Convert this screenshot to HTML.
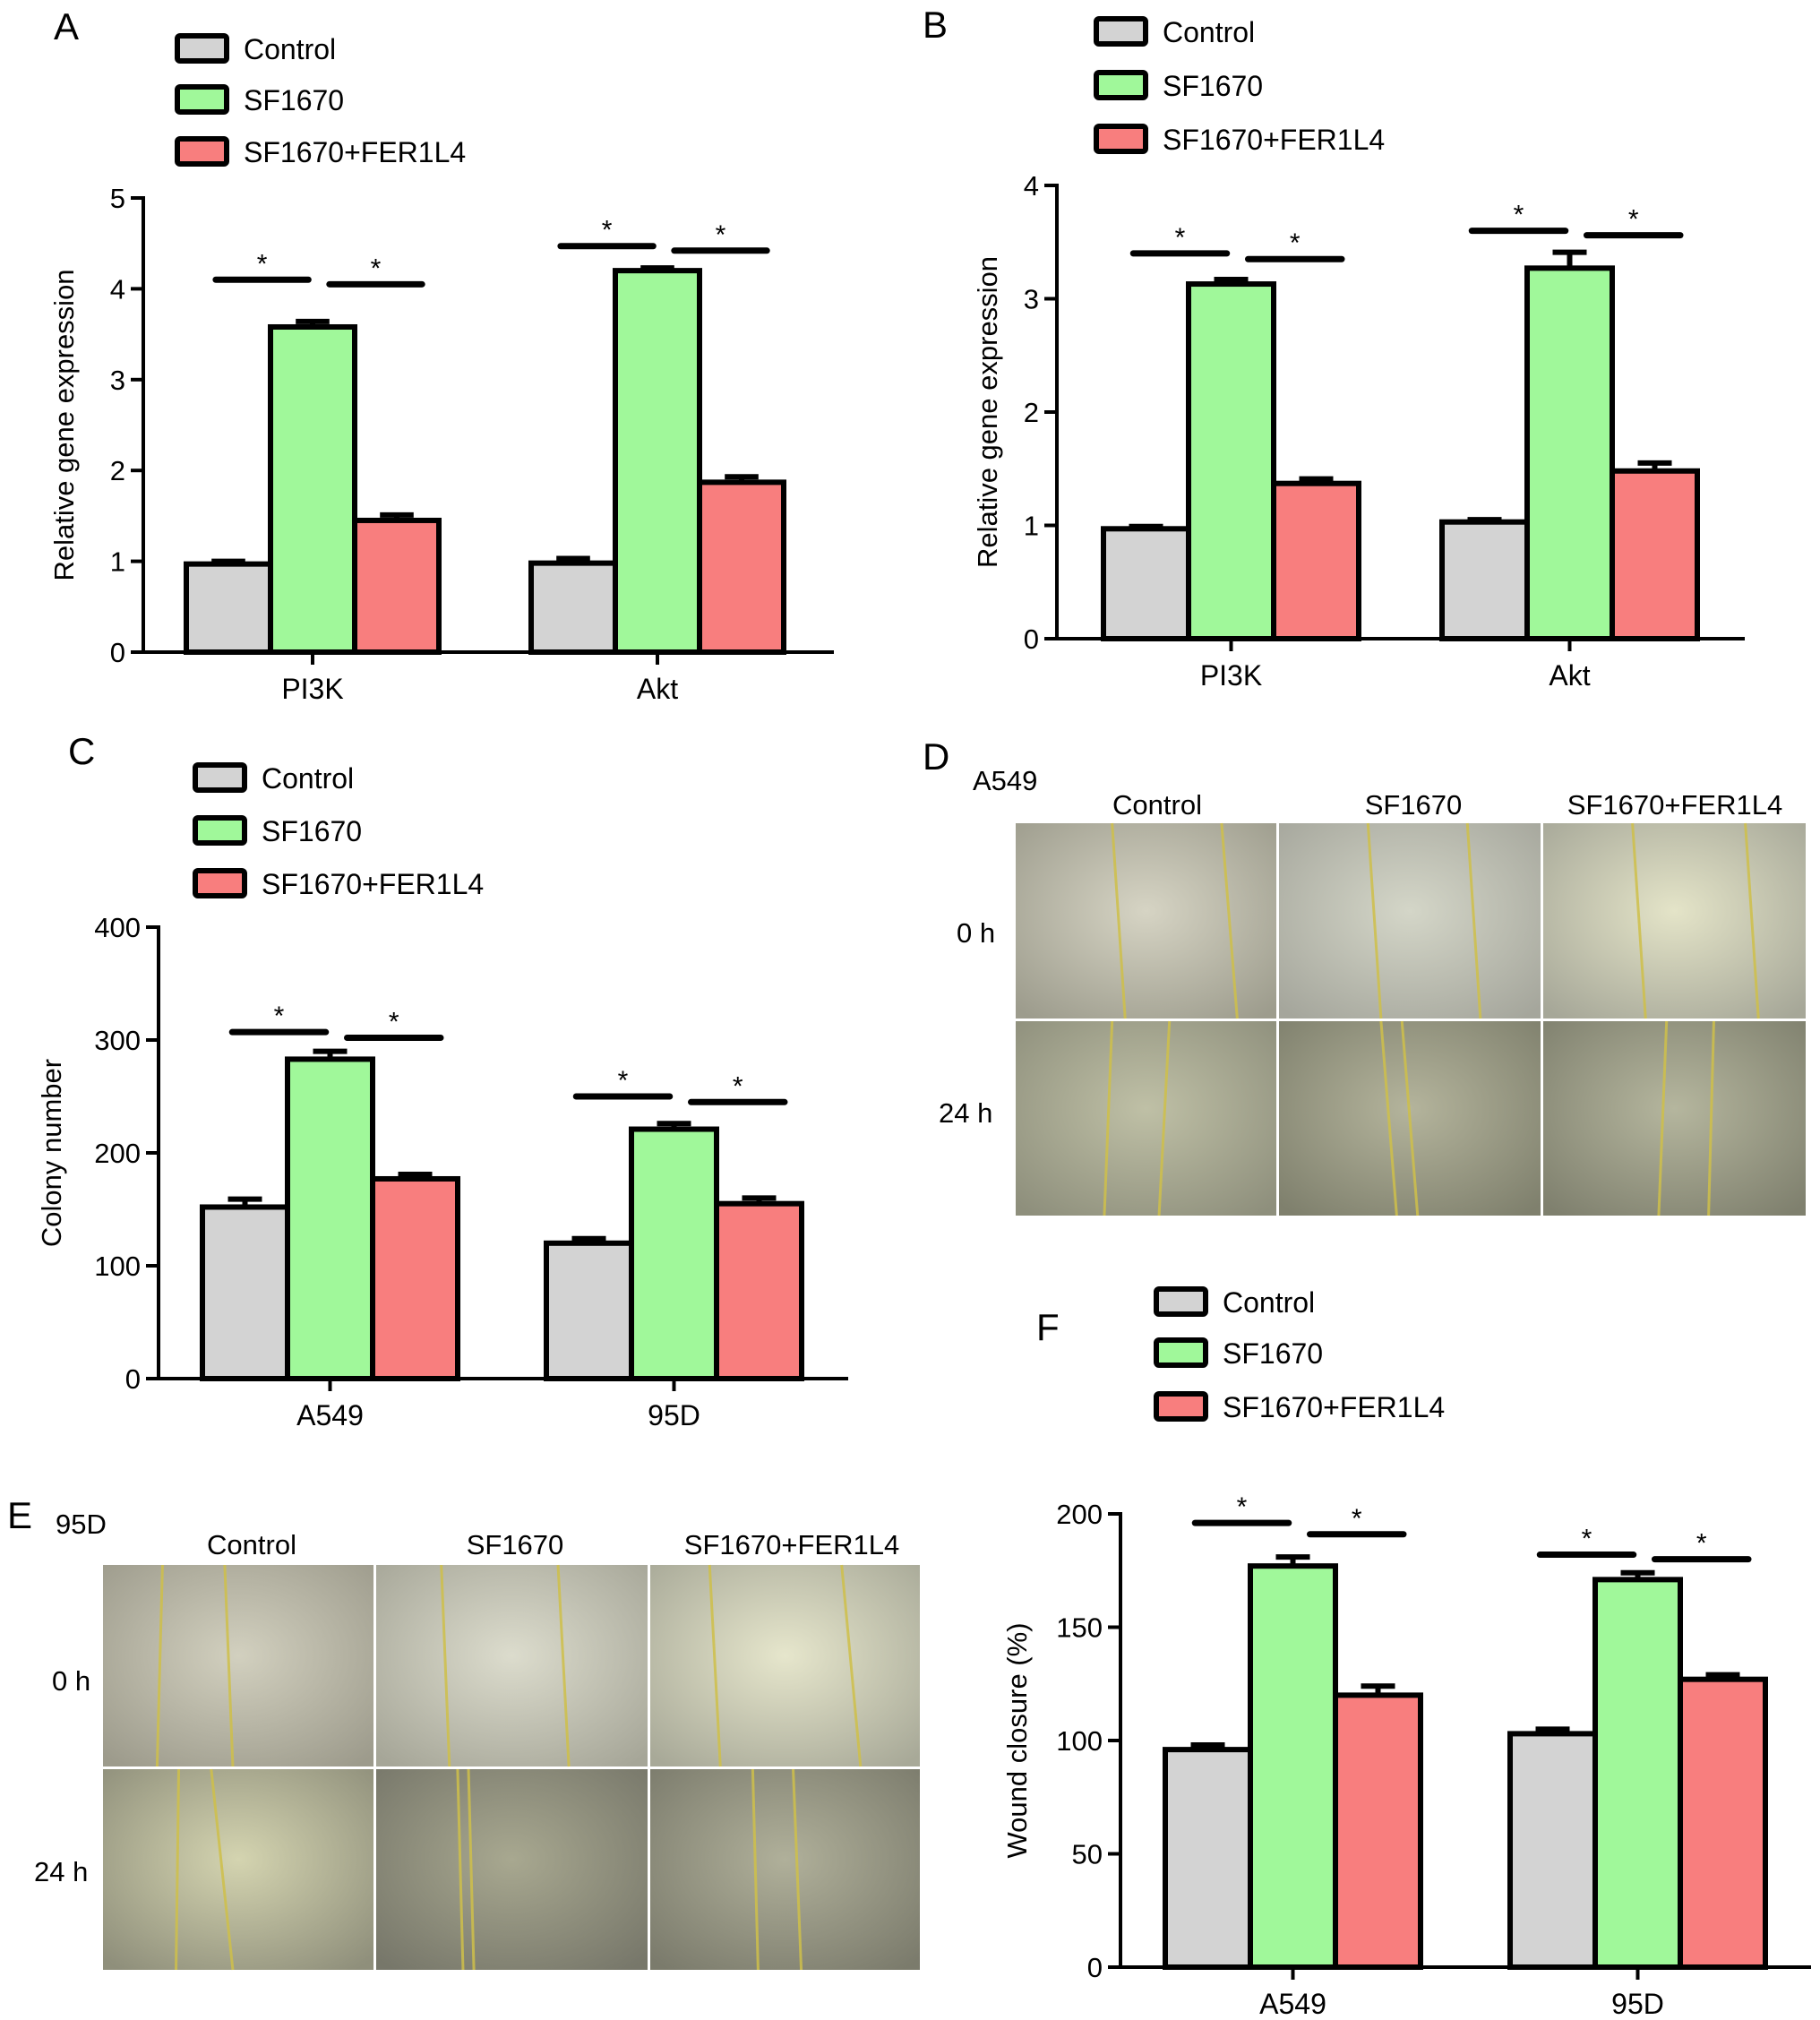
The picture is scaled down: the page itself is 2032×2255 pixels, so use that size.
<!DOCTYPE html>
<html><head><meta charset="utf-8">
<style>
html,body{margin:0;padding:0;background:#fff;}
#root{position:relative;width:2032px;height:2255px;overflow:hidden;font-family:"Liberation Sans",Arial,sans-serif;}
svg text{font-family:"Liberation Sans",Arial,sans-serif;}
.cell{position:absolute;}
</style></head>
<body>
<div id="root">
<svg id="svg" width="2032" height="2255" viewBox="0 0 2032 2255" style="position:absolute;left:0;top:0"></svg>
</div>
<script>
// ---------- data ----------
const seriesNames = ["Control","SF1670","SF1670+FER1L4"];
const seriesColors = ["#d3d3d3","#a0f89a","#f87e7e"];

const aCategories = ["PI3K","Akt"];
const aMeans = [[0.97,3.58,1.45],[0.98,4.20,1.87]];
const aErrors = [[0.03,0.06,0.06],[0.05,0.03,0.06]];
const aSig = [[4.10,4.05],[4.47,4.42]];
const aTicks = [0,1,2,3,4,5];

const bCategories = ["PI3K","Akt"];
const bMeans = [[0.97,3.13,1.37],[1.03,3.27,1.48]];
const bErrors = [[0.02,0.04,0.04],[0.02,0.14,0.07]];
const bSig = [[3.40,3.35],[3.60,3.56]];
const bTicks = [0,1,2,3,4];

const cCategories = ["A549","95D"];
const cMeans = [[152,283,177],[120,221,155]];
const cErrors = [[7,7,4],[4,5,5]];
const cSig = [[307,302],[250,245]];
const cTicks = [0,100,200,300,400];

const fCategories = ["A549","95D"];
const fMeans = [[96,177,120],[103,171,127]];
const fErrors = [[2,4,4],[2,3,2]];
const fSig = [[196,191],[182,180]];
const fTicks = [0,50,100,150,200];

const NS="http://www.w3.org/2000/svg";
const svg=document.getElementById('svg');
function mk(tag,attrs,parent){const e=document.createElementNS(NS,tag);for(const k in attrs)e.setAttribute(k,attrs[k]);(parent||svg).appendChild(e);return e;}

function chart(cfg){
  const g=mk('g',{});
  
  
  const {x0,x1,yTop,yBot,max,ticks,cats,means,errs,sig,groupStarts,barW,title}=cfg;
  const y=v=>yBot-(v/max)*(yBot-yTop);
  const SW=6;
  // bars
  cats.forEach((c,ci)=>{
    means[ci].forEach((m,si)=>{
      const bx=groupStarts[ci]+si*barW;
      const ey=y(m+errs[ci][si]);
      const eb=mk('line',{x1:bx+barW/2,x2:bx+barW/2,y1:y(m),y2:ey,stroke:'#000','stroke-width':SW},g);
      
      
      const cap=mk('line',{x1:bx+barW*0.3,x2:bx+barW*0.7,y1:ey,y2:ey,stroke:'#000','stroke-width':SW},g);
      
      
      const r=mk('rect',{x:bx,y:y(m),width:barW,height:yBot-y(m),fill:seriesColors[si],stroke:'#000','stroke-width':SW},g);
      
      
    });
    // significance
    const gs=groupStarts[ci];
    const spans=[[gs+0.35*barW,gs+barW+0.45*barW],[gs+barW+0.7*barW,gs+2*barW+0.8*barW]];
    spans.forEach((sp,k)=>{
      const yy=y(sig[ci][k]);
      const l=mk('line',{x1:sp[0],x2:sp[1],y1:yy,y2:yy,stroke:'#000','stroke-width':7,'stroke-linecap':'round'},g);
      
      
      const t=mk('text',{x:(sp[0]+sp[1])/2,y:yy-8,'font-size':30,'text-anchor':'middle'},g);
      t.textContent='*';
      
      
    });
    // x tick + label
    const cx=gs+1.5*barW;
    mk('line',{x1:cx,x2:cx,y1:yBot,y2:yBot+14,stroke:'#000','stroke-width':4},g);
    const xl=mk('text',{x:cx,y:yBot+52,'font-size':32,'text-anchor':'middle'},g);
    xl.textContent=c;
    
    
  });
  // axes
  const ya=mk('line',{x1:x0,x2:x0,y1:yTop-2,y2:yBot+2,stroke:'#000','stroke-width':4},g);
  
  
  const xa=mk('line',{x1:x0-2,x2:x1,y1:yBot,y2:yBot,stroke:'#000','stroke-width':4},g);
  
  
  ticks.forEach(t=>{
    mk('line',{x1:x0-14,x2:x0,y1:y(t),y2:y(t),stroke:'#000','stroke-width':4},g);
    const tl=mk('text',{x:x0-20,y:y(t)+11,'font-size':31,'text-anchor':'end'},g);
    tl.textContent=t;
    
    
  });
  const tt=mk('text',{x:0,y:0,'font-size':31,'text-anchor':'middle',transform:`translate(${cfg.titleX},${(yTop+yBot)/2}) rotate(-90)`},g);
  tt.textContent=title;
  
  
}

function legend(x,ys,name){
  const g=mk('g',{});
  
  
  seriesNames.forEach((s,i)=>{
    const r=mk('rect',{x:x,y:ys[i],width:55,height:28,rx:3,fill:seriesColors[i],stroke:'#000','stroke-width':6},g);
    
    
    const t=mk('text',{x:x+74,y:ys[i]+26,'font-size':32},g);
    t.textContent=s;
    
    
  });
}
function label(txt,x,y,size,name){
  const t=mk('text',{x:x,y:y,'font-size':size},svg);
  t.textContent=txt;
  
  
  return t;
}

// Panel A
label('A',60,44,42,'panel-label-a');
legend(198,[40,97,155],'legend-a');
chart({name:'chart-a',x0:160,x1:931,yTop:221,yBot:728,max:5,ticks:aTicks,cats:aCategories,means:aMeans,errs:aErrors,sig:aSig,groupStarts:[208,593],barW:94,title:'Relative gene expression',titleX:82});
// Panel B
label('B',1030,42,42,'panel-label-b');
legend(1224,[21,81,141],'legend-b');
chart({name:'chart-b',x0:1180,x1:1948,yTop:207,yBot:713,max:4,ticks:bTicks,cats:bCategories,means:bMeans,errs:bErrors,sig:bSig,groupStarts:[1232,1610],barW:95,title:'Relative gene expression',titleX:1113});
// Panel C
label('C',76,853,42,'panel-label-c');
legend(218,[854,913,972],'legend-c');
chart({name:'chart-c',x0:177,x1:947,yTop:1035,yBot:1539,max:400,ticks:cTicks,cats:cCategories,means:cMeans,errs:cErrors,sig:cSig,groupStarts:[226,610],barW:95,title:'Colony number',titleX:68});
// Panel F
label('F',1157,1496,42,'panel-label-f');
legend(1291,[1439,1496,1556],'legend-f');
chart({name:'chart-f',x0:1251,x1:2022,yTop:1690,yBot:2196,max:200,ticks:fTicks,cats:fCategories,means:fMeans,errs:fErrors,sig:fSig,groupStarts:[1301,1686],barW:95,title:'Wound closure (%)',titleX:1146});

// Microscopy panels
function micro(name,x,y,w,h,cols,rows,bgs,lines){
  const g=mk('g',{});
  
  
  let defs=mk('defs',{},g);
  let k=0;
  for(let r=0;r<2;r++)for(let c=0;c<3;c++){
    const cx=x+cols[c],cy=y+rows[r],cw=cols[c+1]-cols[c]-3,ch=rows[r+1]-rows[r]-3;
    const id=name+'g'+k;
    const rg=mk('radialGradient',{id:id,cx:'50%',cy:'45%',r:'70%'},defs);
    mk('stop',{offset:'0%','stop-color':bgs[k][0]},rg);
    mk('stop',{offset:'100%','stop-color':bgs[k][1]},rg);
    const im=mk('rect',{x:cx,y:cy,width:cw,height:ch,fill:`url(#${id})`},g);
    
    
    lines[k].forEach(l=>{
      mk('line',{x1:cx+l[0]*cw,x2:cx+l[1]*cw,y1:cy,y2:cy+ch,stroke:'#cfc04a','stroke-width':3,opacity:0.85},g);
    });
    k++;
  }
}
micro('wound-panel-d',1134,919,885,441,[0,294,589,885],[0,221,441],
 [['#d6d4c4','#9d9c8d'],['#d4d6c8','#a5a69c'],['#e4e4c8','#a6a798'],['#bfc0a6','#8e8f7c'],['#b4b49c','#7f806d'],['#b5b69e','#7f806e']],
 [[[0.37,0.42],[0.79,0.85]],[[0.34,0.39],[0.72,0.77]],[[0.34,0.39],[0.77,0.82]],[[0.37,0.34],[0.59,0.55]],[[0.39,0.45],[0.47,0.53]],[[0.47,0.44],[0.65,0.63]]]);
label('D',1030,859,42,'panel-label-d');
label('A549',1086,882,31,'cell-line-label-d');
[['Control',1292],['SF1670',1578],['SF1670+FER1L4',1870]].forEach(a=>{const t=label(a[0],a[1],909,31,'column-title');t.setAttribute('text-anchor','middle');});
label('0 h',1068,1052,31,'row-label-0h');
label('24 h',1048,1253,31,'row-label-24h');

micro('wound-panel-e',115,1747,915,455,[0,305,611,915],[0,228,455],
 [['#d2d0bf','#9d9b8c'],['#dcdccd','#a6a698'],['#e6e6cc','#a8a998'],['#d4d4b0','#8f8f7b'],['#a8a890','#77776a'],['#b0b09a','#7b7b6c']],
 [[[0.22,0.2],[0.45,0.48]],[[0.24,0.27],[0.67,0.71]],[[0.22,0.26],[0.71,0.78]],[[0.28,0.27],[0.4,0.48]],[[0.3,0.32],[0.34,0.36]],[[0.38,0.4],[0.53,0.56]]]);
label('E',8,1706,42,'panel-label-e');
label('95D',62,1712,31,'cell-line-label-e');
[['Control',281],['SF1670',575],['SF1670+FER1L4',884]].forEach(a=>{const t=label(a[0],a[1],1735,31,'column-title');t.setAttribute('text-anchor','middle');});
label('0 h',58,1887,31,'row-label-0h');
label('24 h',38,2100,31,'row-label-24h');
</script>
</body></html>
